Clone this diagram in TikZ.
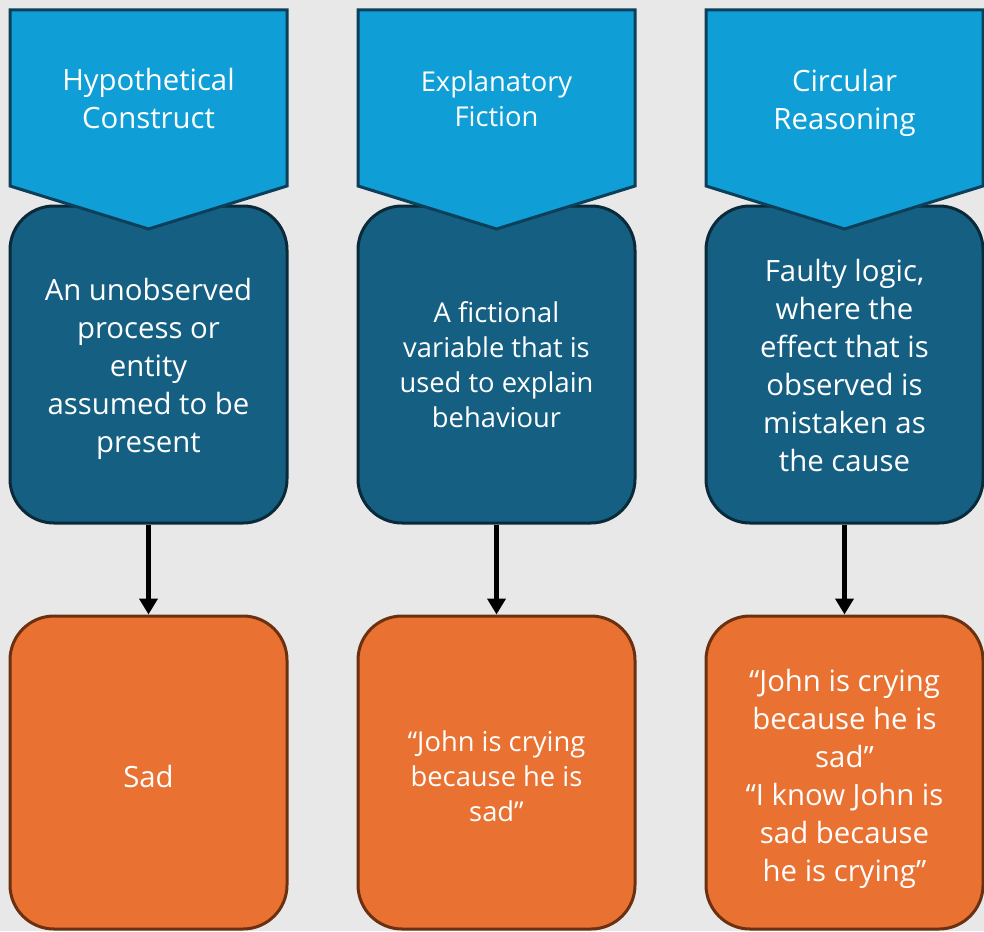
\documentclass[tikz,border=0pt]{standalone}
\usepackage{fontspec}
\setmainfont{Open Sans}
\usetikzlibrary{arrows.meta}

\definecolor{bggray}{HTML}{E8E8E8}
\definecolor{chevblue}{HTML}{0F9ED5}
\definecolor{chevline}{HTML}{0B3F5A}
\definecolor{defteal}{HTML}{156082}
\definecolor{defline}{HTML}{0A2A3A}
\definecolor{exorange}{HTML}{E97132}
\definecolor{exline}{HTML}{6B3010}

\begin{document}
\begin{tikzpicture}[x=0.75pt,y=-0.75pt,
    chevron/.style={fill=chevblue,draw=chevline,line width=2.25pt,line join=miter},
    defbox/.style={rectangle,rounded corners=33pt,fill=defteal,draw=defline,line width=2.25pt,
      minimum width=207.75pt,minimum height=237.75pt,inner sep=0pt},
    exbox/.style={rectangle,rounded corners=33pt,fill=exorange,draw=exline,line width=2.25pt,
      minimum width=207.75pt,minimum height=234.75pt,inner sep=0pt},
    bigtext/.style={text=white,align=center,font=\fontsize{22}{28.5}\selectfont},
    smalltext/.style={text=white,align=center,font=\fontsize{20.5}{26.25}\selectfont},
    linkarrow/.style={-{Triangle[width=13.5pt,length=12pt]},line width=4pt,black}]

        % Background
        \fill[bggray] (0,0) rectangle (984,931);
        \useasboundingbox (0,0) rectangle (984,931);

        % Definition boxes (drawn first, the chevrons overlap them)
        \node[defbox] (def1) at (148.5,364.5) {};
        \node[bigtext] (def1text) at (148.5,369) {An unobserved\\process or\\entity\\assumed to be\\present};
        \node[defbox] (def2) at (496.5,364.5) {};
        \node[smalltext] (def2text) at (496.5,364.5) {A fictional\\variable that is\\used to explain\\behaviour};
        \node[defbox] (def3) at (844.5,364.5) {};
        \node[bigtext] (def3text) at (844.5,365) {Faulty logic,\\where the\\effect that is\\observed is\\mistaken as\\the cause};

        % Chevrons with the terms
        \draw[chevron] (10,10) -- (287,10) -- (287,186) -- (148.5,229) -- (10,186) -- cycle; % First chevron
        \node[bigtext] (term1) at (148.5,98) {Hypothetical\\Construct};
        \draw[chevron] (358,10) -- (635,10) -- (635,186) -- (496.5,229) -- (358,186) -- cycle; % Second chevron
        \node[smalltext] (term2) at (496.5,99) {Explanatory\\Fiction};
        \draw[chevron] (706,10) -- (983,10) -- (983,186) -- (844.5,229) -- (706,186) -- cycle; % Third chevron
        \node[bigtext] (term3) at (844.5,102.5) {Circular\\Reasoning};

        % Example boxes
        \node[exbox] (ex1) at (148.5,772.5) {};
        \node[bigtext] (ex1text) at (148.5,776.5) {Sad};
        \node[exbox] (ex2) at (496.5,772.5) {};
        \node[smalltext] (ex2text) at (496.5,776) {“John is crying\\because he is\\sad”};
        \node[exbox] (ex3) at (844.5,772.5) {};
        \node[bigtext] (ex3text) at (844.5,778.5) {“John is crying\\because he is\\sad”\\“I know John is\\sad because\\he is crying”};

        % Arrows from definitions to examples
        \draw[linkarrow] (def1) -- (ex1);
        \draw[linkarrow] (def2) -- (ex2);
        \draw[linkarrow] (def3) -- (ex3);
\end{tikzpicture}
\end{document}
